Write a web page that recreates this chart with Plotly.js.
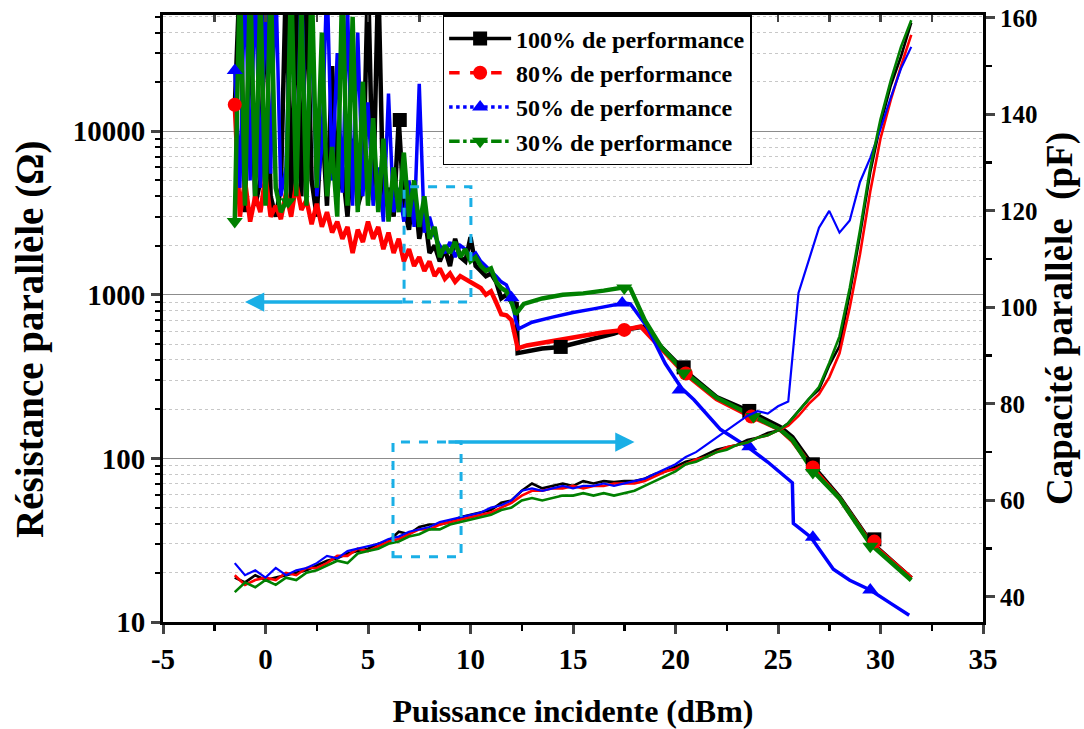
<!DOCTYPE html>
<html>
<head>
<meta charset="utf-8">
<script src="https://cdn.plot.ly/plotly-3.0.1.min.js"></script>
<style>html,body{margin:0;padding:0;background:#fff;}#chart{width:1084px;height:729px;}</style>
</head>
<body>
<div id="chart"></div>
<script>
// ---------- DATA ----------
const seriesNames = ["100% de performance", "80% de performance", "50% de performance", "30% de performance"];

// x-axis tick labels
const xTickVals = [-5, 0, 5, 10, 15, 20, 25, 30, 35];
const xTickText = ["-5", "0", "5", "10", "15", "20", "25", "30", "35"];

// Résistance parallèle: noisy low-power part (shared x) + smooth tail (own x)
const xNoise = [-1.5,-1.25,-1,-0.75,-0.5,-0.25,0,0.25,0.5,0.75,1,1.25,1.5,1.75,2,2.25,2.5,2.75,3,3.25,3.5,3.75,4,4.25,4.5,4.75,5,5.25,5.5,5.75,6,6.25,6.5,6.75,7,7.25,7.5,7.75,8,8.25,8.5,8.75,9,9.25,9.5,9.75,10,10.25,10.5,10.75,11,11.25,11.5,11.75];

const rNoise100 = [14000,90000,3200,60000,3500,5000,80000,4000,3000,4500,
                   90000,3500,70000,4000,90000,5000,3000,12000,3500,25000,
                   4000,6000,3000,9000,3500,4500,90000,3800,90000,3500,
                   4500,3000,11700,3500,2500,4500,2200,3200,1800,2000,
                   1600,1900,1500,2200,1700,1600,2250,1500,1400,1300,
                   1350,1200,950,1000];
const rNoise80 = [14500,3000,5000,2800,4000,3200,5300,3000,3500,2900,
                  4200,3000,4800,3300,3800,2700,3600,2600,3200,2400,
                  2800,2200,2600,1800,2500,2100,2800,2200,2600,1900,
                  2400,1800,2200,1600,1900,1500,1700,1400,1600,1300,
                  1450,1250,1350,1200,1300,1250,1200,1150,1100,1000,
                  1050,900,760,750];
const rNoise50 = [23500,4500,90000,5000,90000,4500,70000,5500,90000,4000,
                  6000,80000,4500,90000,5000,50000,4000,8000,90000,5000,
                  30000,4200,60000,3500,40000,4000,15000,3500,6000,2800,
                  17000,3200,4500,2800,5000,2600,19500,2400,3000,2300,
                  2000,1800,2100,1700,2000,1900,1700,1800,1600,1500,
                  1400,1300,1200,1150];
const rNoise30 = [2800,90000,3500,90000,4000,70000,3500,90000,4500,3200,
                  3700,90000,4000,60000,3500,90000,4500,40000,4000,8000,
                  3000,90000,3500,50000,3200,20000,3500,12000,3200,9000,
                  2800,6000,3200,7400,3000,5000,2600,4000,2200,2600,
                  1700,2000,1800,2100,1700,1900,1600,1700,1500,1400,
                  1450,1200,1100,1050];

const xTail100 = [12.0,12.25,12.3,12.75,13.5,14.4,15,16,17,17.5,18.4,19.3,20.4,22.0,23.5,25.1,25.7,26.7,28.0,29.5,31.5];
const rTail100 = [900,880,440,450,470,480,500,540,580,610,637,481,348,237,197,156,135,90,58,31,18.5];
const xTail80 = [12.0,12.2,12.3,12.75,13.5,14.5,15.5,16.5,17.5,18.3,19.3,20.4,22.0,23.5,25.1,25.7,26.7,28.0,29.5,31.5];
const rTail80 = [700,540,470,490,510,530,560,590,610,640,470,335,230,185,150,128,87,57,30.5,18.5];
const xTail50 = [12.0,12.2,12.35,13,14,15,16,17,17.5,17.8,18.6,19.5,20.3,20.9,22.2,23.5,24.5,25.7,25.75,26.6,27.7,28.5,29.5,30.5,31.4];
const rTail50 = [970,700,620,680,730,780,820,860,890,880,640,380,268,228,150,118,95,71,40,33,21,18,15.7,13,11];
const xTail30 = [12.0,12.2,12.6,13.5,14.5,15.5,16.5,17.5,17.8,18.5,19.3,20.4,22.0,23.5,25.1,25.7,26.7,28.0,29.5,31.5];
const rTail30 = [900,760,880,950,1000,1020,1060,1110,1090,700,480,340,235,190,150,130,84,57,30,18];

// Marker positions on the resistance curves
const mkX100 = [6.55,14.4,20.4,23.6,26.7,29.7];
const mkR100 = [11700,480,360,195,92,32];
const mkX80 = [-1.5,17.5,20.5,23.7,26.7,29.7];
const mkR80 = [14500,610,330,180,88,31];
const mkX50 = [-1.5,12.0,17.4,20.2,23.6,26.7,29.5];
const mkR50 = [23500,960,890,262,118,33,15.7];
const mkX30 = [-1.5,1.1,17.5,20.4,23.8,26.7,29.5];
const mkR30 = [2800,3700,1100,333,180,82,29];

// Capacité parallèle (pF)
const xCap = [-1.5,-1,-0.5,0,0.5,1,1.5,2,2.5,3,3.5,4,4.5,5,5.5,6,6.5,7,7.5,8,8.5,9,9.5,10,10.5,11,11.5,12,12.5,13,13.5,14,14.5,15,15.5,16,16.5,17,17.5,18,18.5,19,19.5,20,20.5,21,21.5,22,22.5,23,23.5,24,24.5,25,25.5,26,26.5,27,27.5,28,28.5,29,29.5,30,30.5,31,31.5];
const cap100 = [44,43,44.5,43.5,44,44.5,45,45.5,46.5,47.5,
                48,49,49.5,50,51,51.5,53.5,53,54.5,55,
                55,55.5,56.5,57,57.5,58,59.5,60,62,63.5,
                62.5,63,63.5,63,64,63.5,64,63.8,64,64,
                64.5,65.5,66,67,68,68.5,69.5,70.5,71,71.5,
                72.5,73,74,74.5,76,78.5,81,83,88,92,
                103,115,128,138,146,152,159];
const cap80 = [44.5,42.5,43.5,44,43.5,45,44.5,46,46,47,
               48.5,48.5,50,49.5,50.5,51.5,52,53,54,54,
               55,55.5,56,56.5,57,57.5,58.5,59.5,61,62,
               62,62.5,62.5,63,62.5,63,63,63.5,63.5,63.5,
               64,65,66,66.5,67.5,68.5,69,70,71,71.5,
               72,73,73.5,74.5,75.5,77.5,80,82,85.5,90.5,
               100,111,124,135,143,150,156.5];
const cap50 = [47,44.5,45.5,44,46,44.5,45.5,46,47,48.5,
               48,49.5,50,50.5,51,52,52.5,53.5,54,54.5,
               55.5,56,56.5,57,57.5,58.5,59,60,62,62.5,
               62,62.5,63,62.5,63,63,63.5,63,63.5,64,
               64.5,65.5,66.5,67.5,69,70,71.5,73,74.5,76,
               77.5,78.5,78,79.5,80.5,103,110,116.5,120,115.5,
               118,126,131,137,143.5,149.5,154];
const cap30 = [41,43,42,43.5,42.5,44,43.5,45,45.5,46.5,
               47.5,47,49,49.5,50,51,51.5,52.5,53,54,
               54,55,55.5,56,56.5,57,58,58.5,60,60.5,
               60,60.5,61,61,61.5,61,61.5,61,61.5,62,
               63,64,65,66,67.5,68,69,70,70.5,71.5,
               72,73,73.5,74.5,76,78.5,81,83.5,88.5,94,
               104,116,129,139,147,154,159.5];

// ---------- STYLE ----------
const FONT = 'Liberation Serif, Times New Roman, serif';
const CYAN = '#1AAFE6';
const colors = ['#000000', '#FF0000', '#0000FF', '#008000'];
const symbols = ['square', 'circle', 'triangle-up', 'triangle-down'];
const dashes = ['solid', 'dash', 'dot', 'dashdot'];

const rX = [xNoise.concat(xTail100), xNoise.concat(xTail80), xNoise.concat(xTail50), xNoise.concat(xTail30)];
const rY = [rNoise100.concat(rTail100), rNoise80.concat(rTail80), rNoise50.concat(rTail50), rNoise30.concat(rTail30)];
const mX = [mkX100, mkX80, mkX50, mkX30];
const mY = [mkR100, mkR80, mkR50, mkR30];
const caps = [cap100, cap80, cap50, cap30];
const rWidth = [4.5, 4.5, 3.5, 4.5];
const cWidth = [2.6, 2.6, 2.2, 2.6];

const traces = [];
for (let i = 0; i < 4; i++) {
  traces.push({x: xCap, y: caps[i], xaxis: 'x', yaxis: 'y2', mode: 'lines',
    line: {color: colors[i], width: cWidth[i]}, showlegend: false, hoverinfo: 'skip'});
}
for (let i = 0; i < 4; i++) {
  traces.push({x: rX[i], y: rY[i], xaxis: 'x', yaxis: 'y', mode: 'lines',
    line: {color: colors[i], width: rWidth[i]}, showlegend: false, hoverinfo: 'skip'});
}
for (let i = 0; i < 4; i++) {
  traces.push({x: mX[i], y: mY[i], xaxis: 'x', yaxis: 'y', mode: 'markers',
    marker: {color: colors[i], symbol: symbols[i], size: 14}, showlegend: false, hoverinfo: 'skip'});
}
for (let i = 0; i < 4; i++) {
  traces.push({x: [null], y: [null], xaxis: 'x', yaxis: 'y', mode: 'lines+markers', name: seriesNames[i],
    line: {color: colors[i], width: 3.5, dash: dashes[i]},
    marker: {color: colors[i], symbol: symbols[i], size: 14}});
}
traces.push({x: [], y: [], xaxis: 'x2', yaxis: 'y', showlegend: false, hoverinfo: 'skip'});

const layout = {
  width: 1084, height: 729,
  margin: {l: 163, r: 101, t: 15, b: 107},
  paper_bgcolor: '#ffffff', plot_bgcolor: '#ffffff',
  font: {family: FONT, color: '#000', weight: 'bold'},
  showlegend: true,
  legend: {x: 0.341, y: 1.0, xanchor: 'left', yanchor: 'top',
    bgcolor: '#ffffff', bordercolor: '#000', borderwidth: 1.5,
    font: {family: FONT, size: 24, color: '#000', weight: 'bold'},
    tracegroupgap: 0, itemwidth: 62},
  xaxis: {range: [-5, 35], tickmode: 'array', tickvals: xTickVals, ticktext: xTickText,
    ticks: 'outside', ticklen: 9, tickwidth: 3,
    showline: true, linewidth: 3, linecolor: '#000', zeroline: false, showgrid: false,
    minor: {tick0: 0, dtick: 2.5, ticks: 'outside', ticklen: 6, tickwidth: 2.5, tickcolor: '#000'},
    tickfont: {family: FONT, size: 29, weight: 'bold'},
    title: {text: 'Puissance incidente (dBm)', font: {family: FONT, size: 32, weight: 'bold'}, standoff: 28}},
  xaxis2: {overlaying: 'x', side: 'top', anchor: 'y', range: [-5, 35], tick0: 0, dtick: 2.5,
    ticks: 'inside', ticklen: 7, tickwidth: 2.5, showticklabels: false,
    showline: true, linewidth: 3, linecolor: '#000', zeroline: false, showgrid: false},
  yaxis: {type: 'log', range: [1, 4.71], dtick: 1, tickformat: 'd', exponentformat: 'none',
    ticks: 'outside', ticklen: 9, tickwidth: 3, showline: true, linewidth: 3, linecolor: '#000',
    zeroline: false, showgrid: true, gridcolor: '#8c8c8c', gridwidth: 1,
    minor: {dtick: 'D1', ticks: 'outside', ticklen: 5, tickwidth: 2, tickcolor: '#000',
      showgrid: true, gridcolor: '#c8c8c8', griddash: 'dot', gridwidth: 1},
    tickfont: {family: FONT, size: 29, weight: 'bold'}},
  yaxis2: {overlaying: 'y', side: 'right', anchor: 'x', range: [34.8, 160.6], tick0: 0, dtick: 20,
    ticks: 'outside', ticklen: 9, tickwidth: 3, showline: true, linewidth: 3, linecolor: '#000',
    zeroline: false, showgrid: false,
    minor: {dtick: 10, ticks: 'outside', ticklen: 6, tickwidth: 2.5, tickcolor: '#000'},
    tickfont: {family: FONT, size: 25, weight: 'bold'},
    title: {text: 'Capacité parallèle  (pF)', font: {family: FONT, size: 37, weight: 'bold'}, standoff: 10}},
  shapes: [
    {type: 'rect', xref: 'x', yref: 'y2', x0: 6.76, x1: 10.02, y0: 101.1, y1: 125.0,
      line: {color: CYAN, width: 3, dash: 'dash'}},
    {type: 'rect', xref: 'x', yref: 'y2', x0: 6.22, x1: 9.54, y0: 48.3, y1: 72.1,
      line: {color: CYAN, width: 3, dash: 'dash'}}
  ],
  annotations: [
    {xref: 'x', yref: 'y2', axref: 'x', ayref: 'y2', x: -1.0, y: 101.1, ax: 6.76, ay: 101.1,
      showarrow: true, arrowhead: 2, arrowsize: 1.1, arrowwidth: 3.5, arrowcolor: CYAN, text: ''},
    {xref: 'x', yref: 'y2', axref: 'x', ayref: 'y2', x: 18.0, y: 72.1, ax: 8.85, ay: 72.1,
      showarrow: true, arrowhead: 2, arrowsize: 1.1, arrowwidth: 3.5, arrowcolor: CYAN, text: ''},
    {xref: 'paper', yref: 'paper', x: -0.162, y: 0.465, xanchor: 'center', yanchor: 'middle',
      textangle: -90, showarrow: false, text: 'Résistance parallèle (Ω)',
      font: {family: FONT, size: 39, weight: 'bold', color: '#000'}}
  ]
};

Plotly.newPlot('chart', traces, layout, {staticPlot: true, displayModeBar: false});
</script>
</body>
</html>
